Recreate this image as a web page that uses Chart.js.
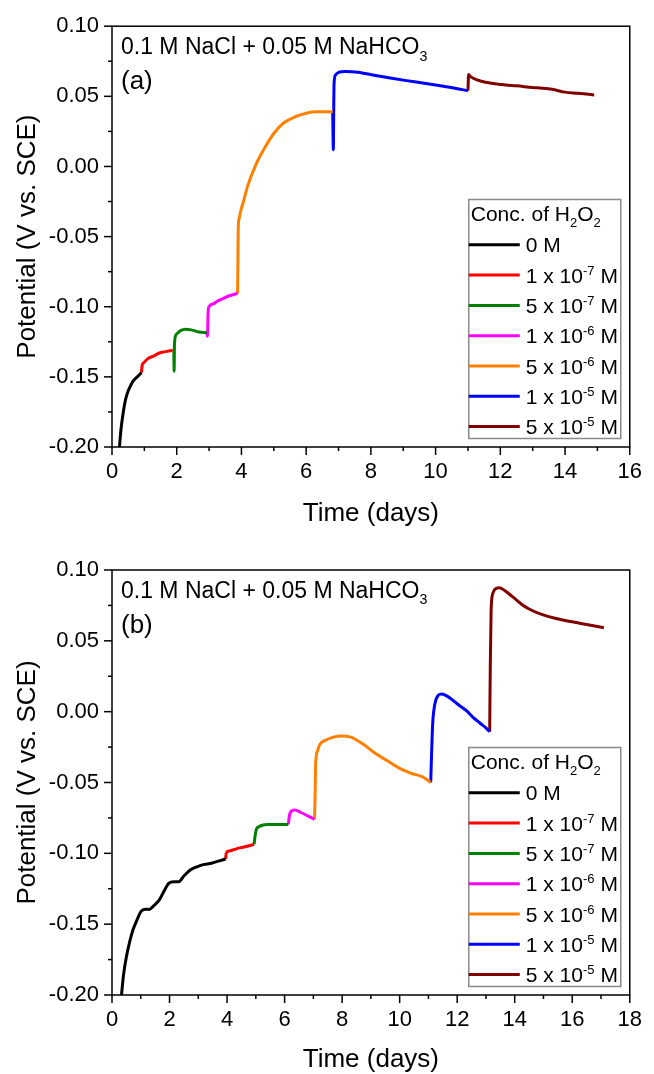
<!DOCTYPE html>
<html>
<head>
<meta charset="utf-8">
<script src="https://cdn.jsdelivr.net/npm/chart.js@4.4.1/dist/chart.umd.min.js"></script>
<style>
  body { margin: 0; background: #fff; }
  .panel { width: 654px; height: 537px; }
</style>
</head>
<body>
<div class="panel"><canvas id="chartA" width="654" height="537"></canvas></div>
<div class="panel"><canvas id="chartB" width="654" height="537"></canvas></div>
<script>
const FONT = "'Liberation Sans', Arial, sans-serif";

const concLabels = ['0 M', '1 x 10^{-7} M', '5 x 10^{-7} M', '1 x 10^{-6} M',
  '5 x 10^{-6} M', '1 x 10^{-5} M', '5 x 10^{-5} M'];
const concColors = ['#000000', '#ff0000', '#008000', '#ff00ff', '#ff8000', '#0000ff', '#800000'];

const xTicksA = [0, 2, 4, 6, 8, 10, 12, 14, 16];
const xTicksB = [0, 2, 4, 6, 8, 10, 12, 14, 16, 18];
const yTicks = [-0.20, -0.15, -0.10, -0.05, 0.00, 0.05, 0.10];

// panel (a)
const a0Time = [0.23, 0.28, 0.35, 0.42, 0.50, 0.58, 0.65, 0.78, 0.91];
const a0Pot = [-0.200, -0.187, -0.175, -0.166, -0.160, -0.156, -0.153, -0.150, -0.147];
const a1Time = [0.91, 0.93, 0.98, 1.11, 1.30, 1.46, 1.65, 1.87];
const a1Pot = [-0.147, -0.142, -0.140, -0.137, -0.135, -0.133, -0.132, -0.131];
const a2Time = [1.87, 1.91, 1.92, 1.93, 1.96, 2.02, 2.12, 2.27, 2.45, 2.68, 2.93];
const a2Pot = [-0.131, -0.131, -0.146, -0.128, -0.121, -0.119, -0.117, -0.116, -0.1165, -0.118, -0.1185];
const a3Time = [2.93, 2.95, 2.97, 3.00, 3.13, 3.30, 3.48, 3.65, 3.84, 3.88];
const a3Pot = [-0.1185, -0.121, -0.104, -0.100, -0.098, -0.0955, -0.0936, -0.092, -0.0907, -0.0905];
const a4Time = [3.88, 3.89, 3.90, 3.93, 3.99, 4.05, 4.19, 4.44, 4.70, 5.00, 5.30, 5.70, 6.00, 6.30, 6.60, 6.82];
const a4Pot = [-0.0905, -0.070, -0.045, -0.037, -0.0305, -0.026, -0.014, 0.001, 0.0125, 0.0235, 0.031, 0.0358, 0.038, 0.039, 0.039, 0.039];
const a5Time = [6.82, 6.84, 6.85, 6.86, 6.90, 7.0, 7.2, 7.6, 8.1, 8.6, 9.1, 9.6, 10.1, 10.6, 11.0];
const a5Pot = [0.039, 0.012, 0.035, 0.058, 0.065, 0.067, 0.0677, 0.0672, 0.065, 0.063, 0.0612, 0.0595, 0.0577, 0.0558, 0.054];
const a6Time = [11.0, 11.02, 11.08, 11.3, 11.6, 12.0, 12.17, 12.5, 12.99, 13.3, 13.6, 14.0, 14.4, 14.9];
const a6Pot = [0.054, 0.0655, 0.064, 0.0615, 0.0598, 0.0585, 0.058, 0.0575, 0.0563, 0.0558, 0.055, 0.053, 0.0522, 0.051];

// panel (b)
const b0Time = [0.33, 0.40, 0.50, 0.62, 0.73, 0.87, 1.01, 1.15, 1.30, 1.45, 1.64, 1.80, 1.98, 2.15, 2.32, 2.50, 2.72, 2.95, 3.17, 3.46, 3.70, 3.95];
const b0Pot = [-0.200, -0.186, -0.173, -0.162, -0.154, -0.147, -0.141, -0.1395, -0.1396, -0.137, -0.133, -0.127, -0.121, -0.120, -0.120, -0.116, -0.1118, -0.1095, -0.108, -0.107, -0.1055, -0.104];
const b1Time = [3.95, 3.97, 4.05, 4.14, 4.30, 4.48, 4.70, 4.94];
const b1Pot = [-0.104, -0.100, -0.0985, -0.098, -0.097, -0.096, -0.095, -0.0937];
const b2Time = [4.94, 4.97, 5.02, 5.11, 5.25, 5.39, 5.70, 6.13];
const b2Pot = [-0.0937, -0.0883, -0.083, -0.0812, -0.080, -0.0796, -0.0796, -0.0796];
const b3Time = [6.13, 6.17, 6.25, 6.36, 6.55, 6.80, 7.04];
const b3Pot = [-0.0796, -0.073, -0.070, -0.0694, -0.071, -0.0735, -0.076];
const b4Time = [7.04, 7.06, 7.08, 7.14, 7.21, 7.44, 7.70, 7.95, 8.30, 8.70, 9.15, 9.60, 10.0, 10.4, 10.8, 11.08];
const b4Pot = [-0.076, -0.060, -0.0365, -0.028, -0.0236, -0.020, -0.018, -0.0172, -0.018, -0.0225, -0.0294, -0.035, -0.040, -0.0435, -0.046, -0.050];
const b5Time = [11.08, 11.11, 11.15, 11.22, 11.32, 11.45, 11.65, 11.88, 12.1, 12.33, 12.55, 12.79, 13.0, 13.13];
const b5Pot = [-0.050, -0.030, -0.008, 0.005, 0.011, 0.0124, 0.0110, 0.0075, 0.004, 0.0005, -0.004, -0.008, -0.0115, -0.0141];
const b6Time = [13.13, 13.15, 13.18, 13.24, 13.35, 13.47, 13.65, 13.92, 14.27, 14.5, 14.84, 15.4, 16.3, 17.1];
const b6Pot = [-0.0141, 0.030, 0.072, 0.0835, 0.087, 0.0875, 0.0855, 0.0812, 0.0753, 0.0725, 0.0694, 0.0659, 0.0623, 0.0593];

function pts(xs, ys) {
  return xs.map((x, i) => ({ x, y: ys[i] }));
}

// draws text with ^{..} superscripts and _{..} subscripts
function drawRich(ctx, text, x, y, size) {
  const parts = text.split(/(\^\{[^}]*\}|_\{[^}]*\})/).filter((p) => p);
  ctx.textBaseline = 'alphabetic';
  ctx.textAlign = 'left';
  parts.forEach((p) => {
    let s = size, dy = 0, t = p;
    if (p.startsWith('^{')) { s = size * 0.62; dy = -size * 0.38; t = p.slice(2, -1); }
    else if (p.startsWith('_{')) { s = size * 0.62; dy = size * 0.3; t = p.slice(2, -1); }
    ctx.font = s + 'px ' + FONT;
    ctx.fillText(t, x, y + dy);
    x += ctx.measureText(t).width;
  });
}

const framePlugin = {
  id: 'frame',
  afterDraw(chart, args, opts) {
    const { ctx, chartArea: ca, scales } = chart;
    ctx.save();
    ctx.strokeStyle = '#000';
    ctx.lineWidth = 1.5;
    // ticks, outward
    const xs = scales.x;
    for (let v = xs.min; v <= xs.max; v++) {
      const px = xs.getPixelForValue(v);
      const len = v % 2 === 0 ? 8 : 4;
      ctx.beginPath(); ctx.moveTo(px, ca.bottom); ctx.lineTo(px, ca.bottom + len); ctx.stroke();
    }
    const ys = scales.y;
    for (let k = -8; k <= 4; k++) {
      const py = ys.getPixelForValue(k * 0.025);
      const len = k % 2 === 0 ? 8 : 4;
      ctx.beginPath(); ctx.moveTo(ca.left, py); ctx.lineTo(ca.left - len, py); ctx.stroke();
    }
    ctx.strokeRect(ca.left, ca.top, ca.right - ca.left, ca.bottom - ca.top);

    // annotation
    ctx.fillStyle = '#000';
    drawRich(ctx, '0.1 M NaCl + 0.05 M NaHCO_{3}', ca.left + 9, ca.top + 27.5, 23);
    drawRich(ctx, opts.tag, ca.left + 9, ca.top + 63, 26);

    // legend box
    const bw = 152, bh = 239;
    const bx = ca.right - 9 - bw, by = ca.bottom - 8.5 - bh;
    ctx.fillStyle = '#fff';
    ctx.fillRect(bx, by, bw, bh);
    ctx.strokeStyle = '#8a8a8a';
    ctx.lineWidth = 1.5;
    ctx.strokeRect(bx, by, bw, bh);
    ctx.fillStyle = '#000';
    drawRich(ctx, 'Conc. of H_{2}O_{2}', bx + 2, by + 21, 21);
    chart.data.datasets.forEach((ds, i) => {
      const cy = by + 45.3 + i * 30.3;
      ctx.strokeStyle = ds.borderColor;
      ctx.lineWidth = 3;
      ctx.beginPath(); ctx.moveTo(bx, cy); ctx.lineTo(bx + 51, cy); ctx.stroke();
      ctx.fillStyle = '#000';
      drawRich(ctx, ds.label, bx + 57, cy + 7.5, 21);
    });
    ctx.restore();
  }
};

function makeChart(id, series, xMax, xTicks, tag, padTop, xHeight, xTitlePad) {
  return new Chart(document.getElementById(id), {
    type: 'scatter',
    data: {
      datasets: series.map((s, i) => ({
        label: concLabels[i],
        data: pts(s[0], s[1]),
        showLine: true,
        borderColor: concColors[i],
        backgroundColor: concColors[i],
        borderWidth: 3,
        pointRadius: 0,
        cubicInterpolationMode: 'monotone',
      })),
    },
    options: {
      responsive: false,
      animation: false,
      layout: { padding: { left: 0, top: padTop, right: 15, bottom: 0 } },
      plugins: { legend: { display: false }, tooltip: { enabled: false }, frame: { tag } },
      scales: {
        x: {
          type: 'linear', min: 0, max: xMax,
          afterFit: (sc) => { sc.height = xHeight; },
          afterBuildTicks: (sc) => { sc.ticks = xTicks.map((v) => ({ value: v })); },
          grid: { display: false, drawTicks: false },
          border: { display: false },
          ticks: { color: '#000', font: { family: FONT, size: 22 }, padding: 12, maxRotation: 0, autoSkip: false },
          title: { display: true, text: 'Time (days)', color: '#000',
            font: { family: FONT, size: 26, lineHeight: 1 }, padding: { top: 0, bottom: xTitlePad } },
        },
        y: {
          type: 'linear', min: -0.2, max: 0.1,
          afterFit: (sc) => { sc.width = 112; },
          afterBuildTicks: (sc) => { sc.ticks = yTicks.map((v) => ({ value: v })); },
          grid: { display: false, drawTicks: false },
          border: { display: false },
          ticks: { color: '#000', font: { family: FONT, size: 22 }, padding: 13,
            callback: (v) => v.toFixed(2) },
          title: { display: true, text: 'Potential (V vs. SCE)', color: '#000',
            font: { family: FONT, size: 26, lineHeight: 1 }, padding: { top: 15, bottom: 0 } },
        },
      },
    },
    plugins: [framePlugin],
  });
}

makeChart('chartA', [[a0Time, a0Pot], [a1Time, a1Pot], [a2Time, a2Pot], [a3Time, a3Pot],
  [a4Time, a4Pot], [a5Time, a5Pot], [a6Time, a6Pot]], 16, xTicksA, '(a)', 23, 90, 10);
makeChart('chartB', [[b0Time, b0Pot], [b1Time, b1Pot], [b2Time, b2Pot], [b3Time, b3Pot],
  [b4Time, b4Pot], [b5Time, b5Pot], [b6Time, b6Pot]], 18, xTicksB, '(b)', 33, 79, 1);
</script>
</body>
</html>
